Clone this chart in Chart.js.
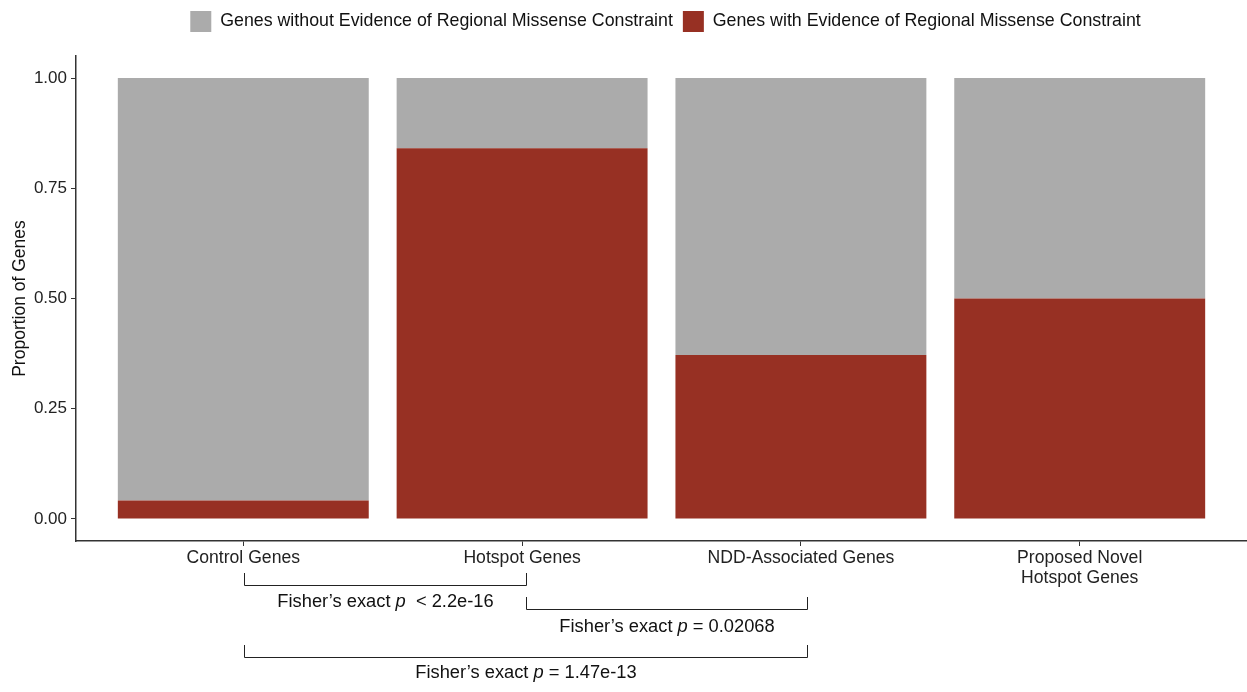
<!DOCTYPE html>
<html>
<head>
<meta charset="utf-8">
<script src="https://cdn.jsdelivr.net/npm/chart.js@4/dist/chart.umd.min.js"></script>
<style>
  html, body { margin: 0; padding: 0; background: #ffffff; }
  #wrap { width: 1247px; height: 692px; position: relative; }
</style>
</head>
<body>
<div id="wrap"><canvas id="c" width="1247" height="692"></canvas></div>
<script>
// Gene groups along the x axis
const categories = [
  ['Control Genes'],
  ['Hotspot Genes'],
  ['NDD-Associated Genes'],
  ['Proposed Novel', 'Hotspot Genes']
];
// Proportion of genes with / without regional missense constraint
const withConstraint    = [0.042, 0.841, 0.372, 0.500];
const withoutConstraint = [0.958, 0.159, 0.628, 0.500];
const yTicks = [0, 0.25, 0.5, 0.75, 1.0];

// Pairwise comparisons drawn as brackets under the axis
const comparisons = [
  { from: 0, to: 1, label: '< 2.2e-16', op: ' ' },
  { from: 1, to: 2, label: '= 0.02068', op: '' },
  { from: 0, to: 2, label: '= 1.47e-13', op: '' }
];

const FONT = '"Liberation Sans", Arial, Helvetica, sans-serif';
const RED = '#973023';
const GREY = '#ababab';
const AXIS = '#333333';

const toPoints = arr => arr.map((v, i) => ({ x: i, y: v }));

const bracketPlugin = {
  id: 'brackets',
  afterDraw(chart) {
    const ctx = chart.ctx;
    const xs = chart.scales.x;
    const rows = [
      { line: 585.5, top: 573, text: 602 },
      { line: 609.5, top: 597, text: 627 },
      { line: 657.5, top: 645, text: 673 }
    ];
    // bracket ends sit a touch right of each group centre
    const endX = i => Math.round(xs.getPixelForValue(i) + 1 + i * 2.5) + 0.5;
    ctx.save();
    ctx.strokeStyle = '#222222';
    ctx.lineWidth = 1;
    ctx.fillStyle = '#111111';
    ctx.textBaseline = 'middle';
    comparisons.forEach((c, i) => {
      const r = rows[i];
      const x1 = endX(c.from);
      const x2 = endX(c.to);
      ctx.beginPath();
      ctx.moveTo(x1, r.top);
      ctx.lineTo(x1, r.line);
      ctx.lineTo(x2, r.line);
      ctx.lineTo(x2, r.top);
      ctx.stroke();
      // "Fisher's exact p ..." with italic p
      const partA = 'Fisher\u2019s exact ';
      const partB = 'p';
      const partC = ' ' + c.op + c.label;
      const reg = '18.3px ' + FONT;
      const ital = 'italic 18.3px ' + FONT;
      ctx.font = reg;
      const wA = ctx.measureText(partA).width;
      const wC = ctx.measureText(partC).width;
      ctx.font = ital;
      const wB = ctx.measureText(partB).width;
      const total = wA + wB + wC;
      let x = (x1 + x2) / 2 - total / 2;
      ctx.textAlign = 'left';
      ctx.font = reg; ctx.fillText(partA, x, r.text); x += wA;
      ctx.font = ital; ctx.fillText(partB, x, r.text); x += wB;
      ctx.font = reg; ctx.fillText(partC, x, r.text);
    });
    ctx.restore();
  }
};

// Centre the legend over the plotting panel and lift it toward the top edge
const legendShift = {
  id: 'legendShift',
  afterLayout(chart) {
    const dx = 42, dy = -14;
    chart.legend.left += dx;
    chart.legend.right += dx;
    chart.legend.top += dy;
    chart.legend.bottom += dy;
  }
};

new Chart(document.getElementById('c'), {
  type: 'bar',
  data: {
    datasets: [
      {
        label: 'Genes with Evidence of Regional Missense Constraint',
        data: toPoints(withConstraint),
        backgroundColor: RED,
        borderWidth: 0
      },
      {
        label: 'Genes without Evidence of Regional Missense Constraint',
        data: toPoints(withoutConstraint),
        backgroundColor: GREY,
        borderWidth: 0
      }
    ]
  },
  options: {
    responsive: false,
    animation: false,
    devicePixelRatio: 1,
    categoryPercentage: 1.0,
    barPercentage: 0.9,
    layout: { padding: { left: 0, right: 0, top: 15, bottom: 0 } },
    plugins: {
      tooltip: { enabled: false },
      legend: {
        position: 'top',
        align: 'center',
        labels: {
          sort: (a, b) => b.datasetIndex - a.datasetIndex,
          boxWidth: 21,
          boxHeight: 21,
          padding: 10,
          color: '#111111',
          font: { family: FONT, size: 17.8 }
        }
      }
    },
    scales: {
      x: {
        type: 'linear',
        stacked: true,
        offset: false,
        min: -0.6,
        max: 3.6,
        afterBuildTicks: s => { s.ticks = categories.map((_, i) => ({ value: i })); },
        afterFit: s => { s.height = 151; },
        ticks: {
          autoSkip: false,
          maxRotation: 0,
          padding: 2,
          color: '#222222',
          font: { family: FONT, size: 17.6, lineHeight: 1.15 },
          callback: v => categories[v]
        },
        grid: { offset: false, drawOnChartArea: false, drawTicks: true, tickLength: 5, color: AXIS, lineWidth: 1 },
        border: { display: true, color: AXIS, width: 1.5 }
      },
      y: {
        stacked: true,
        min: -0.05,
        max: 1.05,
        afterBuildTicks: s => { s.ticks = yTicks.map(v => ({ value: v })); },
        afterFit: s => { s.width = 76; },
        ticks: {
          padding: 4,
          color: '#222222',
          font: { family: FONT, size: 17 },
          callback: v => Number(v).toFixed(2)
        },
        title: {
          display: true,
          text: 'Proportion of Genes',
          color: '#111111',
          font: { family: FONT, size: 17.5 },
          padding: { top: 10, bottom: 4 }
        },
        grid: { drawOnChartArea: false, drawTicks: true, tickLength: 5, color: AXIS, lineWidth: 1 },
        border: { display: true, color: AXIS, width: 1.5 }
      }
    }
  },
  plugins: [bracketPlugin, legendShift]
});
</script>
</body>
</html>
